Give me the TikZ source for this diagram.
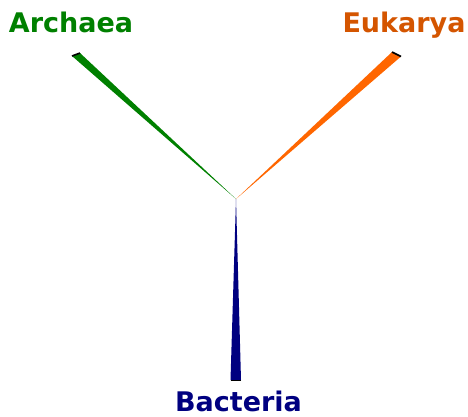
\documentclass[tikz,border=0pt]{standalone}
\usepackage{fontspec}
\setmainfont{DejaVu Sans}
\definecolor{archg}{HTML}{008000}
\definecolor{eukw}{HTML}{FF6600}
\definecolor{eukt}{HTML}{D45500}
\definecolor{bactn}{HTML}{000080}
\begin{document}
\begin{tikzpicture}[x=1pt,y=-1pt,
  lbl/.style={inner sep=0pt,anchor=base,text depth=0pt,font=\fontsize{27}{32}\selectfont\bfseries},
  tip/.style={line width=1.6pt,black}]
\useasboundingbox (0,0) rectangle (468,416);
\coordinate (c) at (236,199);
\coordinate (a1) at (72,56);
\coordinate (a2) at (80,53);
\coordinate (e1) at (392,52);
\coordinate (e2) at (401,56.5);
\coordinate (b1) at (230.5,380);
\coordinate (b2) at (241,380);
\fill[archg] (c) -- (a1) -- (a2) -- cycle;
\fill[eukw] (c) -- (e1) -- (e2) -- cycle;
\fill[bactn] (c) -- (b1) -- (b2) -- cycle;
\draw[tip] (a1) -- (a2);
\draw[tip] (e1) -- (e2);
\draw[line width=1pt,black] (b1) -- (b2);
\node[lbl,text=archg] (arch) at (71,32) {Archaea};
\node[lbl,text=eukt] (euk) at (404,32) {Eukarya};
\node[lbl,text=bactn] (bact) at (238.5,411.5) {Bacteria};
\end{tikzpicture}
\end{document}
